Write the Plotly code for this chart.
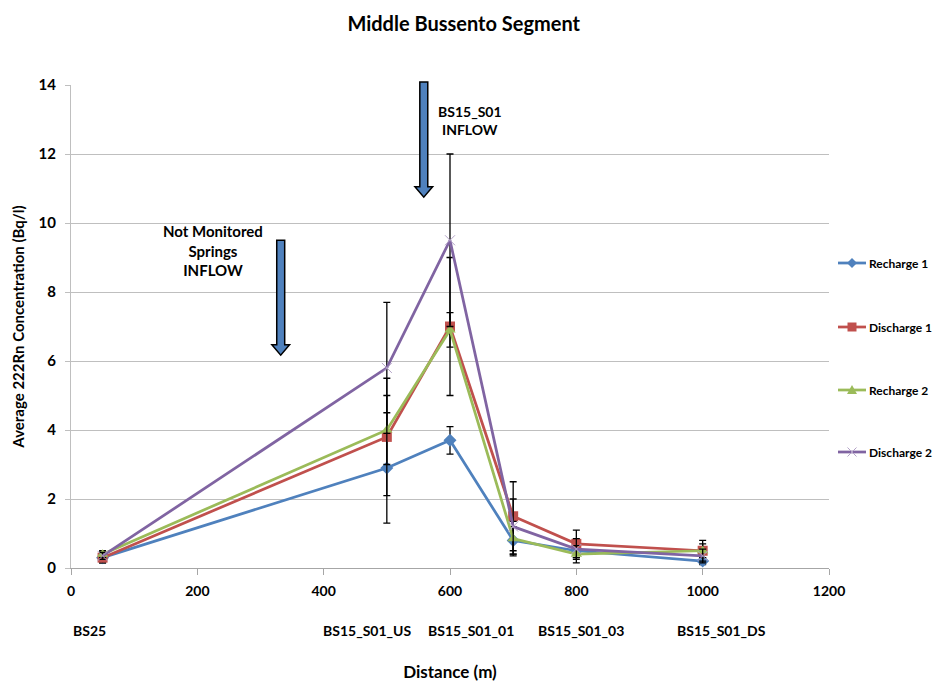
import plotly.graph_objects as go

distance = [50, 500, 600, 700, 800, 1000]
station_labels = ["BS25", "BS15_S01_US", "BS15_S01_01", "BS15_S01_03", "BS15_S01_DS"]

series_names = ["Recharge 1", "Discharge 1", "Recharge 2", "Discharge 2"]
recharge1 = [0.3, 2.9, 3.7, 0.8, 0.5, 0.2]
discharge1 = [0.3, 3.8, 7.0, 1.5, 0.7, 0.5]
recharge2 = [0.4, 4.0, 6.9, 0.85, 0.4, 0.5]
discharge2 = [0.35, 5.8, 9.5, 1.2, 0.55, 0.35]

err_recharge1 = [0.15, 1.6, 0.4, 0.4, 0.2, 0.1]
err_discharge1 = [0.15, 1.7, 2.0, 1.0, 0.4, 0.3]
err_recharge2 = [0.1, 1.0, 0.5, 0.5, 0.25, 0.2]
err_discharge2 = [0.1, 1.9, 2.5, 0.8, 0.3, 0.2]

colors = ["#4F81BD", "#C0504D", "#9BBB59", "#8064A2"]
symbols = ["diamond", "square", "triangle-up", "x-thin"]

FONT = "Lato, 'Liberation Sans Narrow', Arial, sans-serif"
XR = [0, 1200]
YR = [0, 14]

# plot-area geometry in pixels
W, H = 933, 682
ML, MR, MT, MB = 71, 104, 85, 114
PW, PH = W - ML - MR, H - MT - MB

def pxx(X):
    return (X - ML) / PW

def pxy(Y):
    return (H - MB - Y) / PH

fig = go.Figure()
for i, (name, vals, errs) in enumerate(zip(
        series_names,
        [recharge1, discharge1, recharge2, discharge2],
        [err_recharge1, err_discharge1, err_recharge2, err_discharge2])):
    fig.add_trace(go.Scatter(
        x=distance, y=vals, name=name, mode="lines+markers",
        showlegend=False,
        line=dict(color=colors[i], width=2.75),
        marker=dict(symbol=symbols[i], size=10,
                    color=colors[i],
                    line=dict(color="#B3A2C7" if i == 3 else colors[i], width=1 if i == 3 else 0)),
        error_y=dict(type="data", array=errs, visible=True,
                     color="black", thickness=1.3, width=3.5),
    ))

# station labels under the axis
label_x = [30, 470, 634, 808, 1030]
for lx, txt in zip(label_x, station_labels):
    fig.add_annotation(x=lx, y=pxy(630), xref="x", yref="paper", text="<b>%s</b>" % txt,
                       showarrow=False, font=dict(size=14, color="black", family=FONT),
                       xanchor="center", yanchor="middle")

def dx(x):
    return (x - XR[0]) / (XR[1] - XR[0])

def dy(y):
    return (y - YR[0]) / (YR[1] - YR[0])

# inflow arrows
def arrow_path(xc, ytop, ytip, half_shaft=6.3, half_head=14, head_h=0.3):
    yb = ytip + head_h
    pts = [(xc - half_shaft, ytop), (xc + half_shaft, ytop), (xc + half_shaft, yb),
           (xc + half_head, yb), (xc, ytip), (xc - half_head, yb), (xc - half_shaft, yb)]
    return "M " + " L ".join("%.5f,%.5f" % (dx(a), dy(b)) for a, b in pts) + " Z"

for xc, ytop, ytip in [(332, 9.5, 6.17), (558.5, 14.09, 10.75)]:
    fig.add_shape(type="path", xref="paper", yref="paper",
                  path=arrow_path(xc, ytop, ytip),
                  fillcolor="#4F81BD", line=dict(color="black", width=1.5),
                  layer="above")

fig.add_annotation(x=225, y=9.19, xref="x", yref="y",
                   text="<b>Not Monitored<br>Springs<br>INFLOW</b>",
                   showarrow=False, font=dict(size=15, color="black", family=FONT),
                   align="center")
fig.add_annotation(x=632, y=12.96, xref="x", yref="y",
                   text="<b>BS15_S01<br>INFLOW</b>",
                   showarrow=False, font=dict(size=14, color="black", family=FONT),
                   align="center")

# legend (drawn by hand to keep Excel's spacing)
legend_y = [263, 327, 390, 452]
for i, (name, Y) in enumerate(zip(series_names, legend_y)):
    yp = pxy(Y)
    fig.add_shape(type="line", xref="paper", yref="paper",
                  x0=pxx(838), x1=pxx(866), y0=yp, y1=yp,
                  line=dict(color=colors[i], width=2.75))
    cx = pxx(852)
    hx, hy = 5 / PW, 5 / PH
    if symbols[i] == "diamond":
        path = "M %f,%f L %f,%f L %f,%f L %f,%f Z" % (cx, yp + hy, cx + hx, yp, cx, yp - hy, cx - hx, yp)
        fig.add_shape(type="path", xref="paper", yref="paper", path=path,
                      fillcolor=colors[i], line=dict(width=0))
    elif symbols[i] == "square":
        fig.add_shape(type="rect", xref="paper", yref="paper",
                      x0=cx - 4.5 / PW, x1=cx + 4.5 / PW, y0=yp - 4.5 / PH, y1=yp + 4.5 / PH,
                      fillcolor=colors[i], line=dict(width=0))
    elif symbols[i] == "triangle-up":
        path = "M %f,%f L %f,%f L %f,%f Z" % (cx, yp + hy, cx + hx, yp - 4 / PH, cx - hx, yp - 4 / PH)
        fig.add_shape(type="path", xref="paper", yref="paper", path=path,
                      fillcolor=colors[i], line=dict(width=0))
    else:
        for s in (1, -1):
            fig.add_shape(type="line", xref="paper", yref="paper",
                          x0=cx - 4.5 / PW, x1=cx + 4.5 / PW,
                          y0=yp - s * 4.5 / PH, y1=yp + s * 4.5 / PH,
                          line=dict(color="#B3A2C7", width=1))
    fig.add_annotation(x=pxx(867), y=yp, xref="paper", yref="paper",
                       text="<b>%s</b>" % name, showarrow=False,
                       xanchor="left", yanchor="middle",
                       font=dict(size=12, color="black", family=FONT))

fig.update_layout(
    width=W, height=H,
    margin=dict(l=ML, r=MR, t=MT, b=MB, autoexpand=False),
    paper_bgcolor="white", plot_bgcolor="white",
    font=dict(family=FONT, color="black"),
    title=dict(text="<b>Middle Bussento Segment</b>", x=0.497, xanchor="center",
               y=0.965, yanchor="middle", font=dict(size=20, family=FONT, color="black")),
    showlegend=False,
)
fig.update_xaxes(range=XR, dtick=200, tick0=0,
                 showgrid=False, showline=True, linecolor="#A6A6A6", linewidth=1,
                 ticks="outside", ticklen=6, tickcolor="#A6A6A6",
                 ticklabelstandoff=4,
                 tickfont=dict(size=14, family=FONT, color="black"),
                 tickprefix="<b>", ticksuffix="</b>",
                 title=dict(text="<b>Distance (m)</b>", standoff=70,
                            font=dict(size=17, family=FONT, color="black")),
                 zeroline=False)
fig.update_yaxes(range=YR, dtick=2, tick0=0,
                 showgrid=True, gridcolor="#BFBFBF", gridwidth=1,
                 showline=True, linecolor="#BFBFBF", linewidth=1,
                 ticks="outside", ticklen=5, tickcolor="#BFBFBF",
                 ticklabelstandoff=6,
                 tickfont=dict(size=15, family=FONT, color="black"),
                 tickprefix="<b>", ticksuffix="</b>",
                 title=dict(text="<b>Average 222Rn Concentration (Bq/l)</b>", standoff=10,
                            font=dict(size=15, family=FONT, color="black")),
                 zeroline=False)

fig.write_html("out.html")
